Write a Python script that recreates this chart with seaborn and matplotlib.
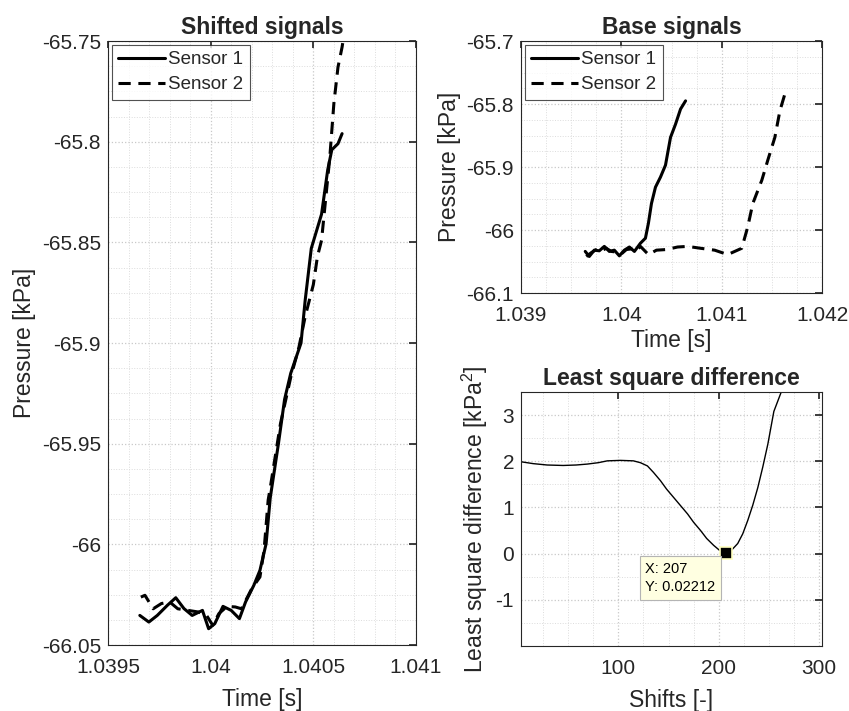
import numpy as np
import pandas as pd
import seaborn as sns
import matplotlib.pyplot as plt
from matplotlib.ticker import MultipleLocator, FuncFormatter

# ---- data ----
# shifted signals (left panel)
shift_t1 = [1.039655, 1.039699, 1.03974, 1.039789, 1.03983, 1.03987, 1.03991, 1.03996,
            1.03999, 1.04002, 1.04006, 1.04010, 1.04014, 1.04017, 1.04021, 1.04024,
            1.04027, 1.04029, 1.04033, 1.04036, 1.04039, 1.04044, 1.04046, 1.04049,
            1.04054, 1.04057, 1.04059, 1.04062, 1.04064]
shift_p1 = [-66.0353, -66.0386, -66.0353, -66.0303, -66.0265, -66.0319, -66.0353, -66.0328,
            -66.0419, -66.0394, -66.0308, -66.0328, -66.0369, -66.0286, -66.0204, -66.0129,
            -65.9997, -65.977, -65.950, -65.928, -65.915, -65.900, -65.879, -65.853,
            -65.836, -65.814, -65.804, -65.801, -65.796]
shift_t2 = [1.03966, 1.03968, 1.03972, 1.03976, 1.03980, 1.03984, 1.03989, 1.03994,
            1.03998, 1.04001, 1.04004, 1.04008, 1.04012, 1.04015, 1.04020, 1.04024,
            1.04026, 1.04028, 1.04029, 1.04034, 1.04039, 1.04043, 1.04046, 1.04050,
            1.04052, 1.04054, 1.04058, 1.04060, 1.04062, 1.04064, 1.04066]
shift_p2 = [-66.0262, -66.0253, -66.032, -66.0294, -66.0286, -66.032, -66.0328, -66.0336,
            -66.0353, -66.0402, -66.0344, -66.0308, -66.0311, -66.032, -66.022, -66.0162,
            -66.003, -65.978, -65.972, -65.940, -65.917, -65.902, -65.887, -65.871,
            -65.857, -65.849, -65.808, -65.781, -65.763, -65.753, -65.740]

# base signals (top right panel)
base_t1 = [1.03964, 1.03968, 1.03973, 1.03978, 1.03983, 1.03988, 1.03993, 1.03998,
           1.04003, 1.04008, 1.04013, 1.04019, 1.04024, 1.04027, 1.04030, 1.04034,
           1.04039, 1.04044, 1.04049, 1.04054, 1.04059, 1.04064]
base_p1 = [-66.034, -66.042, -66.032, -66.033, -66.026, -66.034, -66.032, -66.041,
           -66.032, -66.027, -66.034, -66.021, -66.013, -65.989, -65.958, -65.932,
           -65.916, -65.897, -65.853, -65.832, -65.808, -65.795]
base_t2 = [1.03965, 1.03970, 1.03975, 1.03980, 1.03985, 1.03990, 1.03995, 1.04000,
           1.04005, 1.04010, 1.04015, 1.04019, 1.04027, 1.04035, 1.04045, 1.04056,
           1.04066, 1.04079, 1.04093, 1.04106, 1.04120, 1.04126, 1.04131, 1.04140,
           1.04146, 1.04153, 1.04158, 1.04163]
base_p2 = [-66.042, -66.036, -66.031, -66.033, -66.029, -66.034, -66.035, -66.038,
           -66.031, -66.030, -66.033, -66.026, -66.039, -66.032, -66.031, -66.027,
           -66.026, -66.029, -66.032, -66.039, -66.029, -65.995, -65.958, -65.921,
           -65.889, -65.853, -65.811, -65.784]

# least square difference (bottom right panel)
lsd_shift = [3, 15, 29, 45, 58, 69, 80, 89, 102, 115, 122, 129, 135, 142, 148, 155,
             162, 169, 175, 182, 188, 195, 201, 207, 213, 219, 224, 229, 234, 239,
             244, 249, 255, 262, 268]
lsd_value = [1.99, 1.95, 1.92, 1.91, 1.92, 1.94, 1.97, 2.01, 2.02, 2.01, 1.97, 1.90,
             1.76, 1.58, 1.40, 1.22, 1.04, 0.86, 0.68, 0.50, 0.33, 0.18, 0.07, 0.02212,
             0.08, 0.22, 0.43, 0.72, 1.05, 1.43, 1.88, 2.37, 3.08, 3.48, 4.3]
tip_x, tip_y = 207, 0.02212

# ---- style ----
sns.set_theme(style="white")
plt.rcParams['font.family'] = ['Liberation Sans', 'DejaVu Sans']
plt.rcParams['axes.unicode_minus'] = False
plt.rcParams['mathtext.fontset'] = 'custom'
plt.rcParams['mathtext.rm'] = 'Liberation Sans'
plt.rcParams['mathtext.it'] = 'Liberation Sans:italic'

edge = '#262626'
tick_size = 15
label_size = 16.5
title_size = 16.5
fmt = FuncFormatter(lambda v, p: f'{v:.6g}')


def style_axes(ax, xmaj, xmin, ymaj, ymin):
    ax.xaxis.set_major_locator(MultipleLocator(xmaj))
    ax.xaxis.set_minor_locator(MultipleLocator(xmin))
    ax.yaxis.set_major_locator(MultipleLocator(ymaj))
    ax.yaxis.set_minor_locator(MultipleLocator(ymin))
    ax.xaxis.set_major_formatter(fmt)
    ax.yaxis.set_major_formatter(fmt)
    ax.grid(True, which='major', color='#c8c8c8', linestyle=':', linewidth=0.9)
    ax.grid(True, which='minor', color='#dcdcdc', linestyle=':', linewidth=0.7)
    ax.set_axisbelow(True)
    ax.tick_params(which='both', direction='in', top=True, right=True,
                   colors=edge, labelcolor=edge, labelsize=tick_size)
    ax.tick_params(which='major', length=5)
    ax.tick_params(axis='x', which='major', pad=9)
    ax.tick_params(axis='y', which='major', pad=5)
    ax.tick_params(which='minor', length=0)
    for s in ax.spines.values():
        s.set_color(edge)
        s.set_linewidth(0.8)


def draw_signals(ax, t1, p1, t2, p2):
    sns.lineplot(x=t1, y=p1, ax=ax, color='black', linewidth=2.2, sort=False,
                 estimator=None, label='Sensor 1')
    sns.lineplot(x=t2, y=p2, ax=ax, color='black', linewidth=2.2, sort=False,
                 estimator=None, label='Sensor 2', linestyle='--')
    ax.lines[-1].set_dashes([4, 2.5])
    leg = ax.legend(loc='upper left', fontsize=13.5, frameon=True, fancybox=False,
                    handlelength=2.5, handletextpad=0.15, borderpad=0.35,
                    labelspacing=0.4, borderaxespad=0.2)
    leg.get_frame().set_edgecolor(edge)
    leg.get_frame().set_linewidth(0.8)


fig = plt.figure(figsize=(8.49, 7.11), dpi=100)
ax1 = fig.add_axes([0.1272, 0.0928, 0.3628, 0.8495])
ax2 = fig.add_axes([0.6137, 0.5879, 0.3545, 0.3544])
ax3 = fig.add_axes([0.6137, 0.0914, 0.3545, 0.3572])

# left: shifted signals
draw_signals(ax1, shift_t1, shift_p1, shift_t2, shift_p2)
style_axes(ax1, 0.0005, 0.0001, 0.05, 0.0125)
ax1.set_xlim(1.0395, 1.041)
ax1.set_ylim(-66.05, -65.75)
ax1.set_title('Shifted signals', fontsize=title_size, fontweight='bold', pad=5)
ax1.set_xlabel('Time [s]', fontsize=label_size, color=edge, labelpad=8)
ax1.set_ylabel('Pressure [kPa]', fontsize=label_size, color=edge, labelpad=4)

# top right: base signals
draw_signals(ax2, base_t1, base_p1, base_t2, base_p2)
style_axes(ax2, 0.001, 0.00025, 0.1, 0.025)
ax2.set_xlim(1.039, 1.042)
ax2.set_ylim(-66.1, -65.7)
ax2.set_title('Base signals', fontsize=title_size, fontweight='bold', pad=5)
ax2.set_xlabel('Time [s]', fontsize=label_size, color=edge, labelpad=3)
ax2.set_ylabel('Pressure [kPa]', fontsize=label_size, color=edge, labelpad=4)

# bottom right: least square difference
lsd = pd.DataFrame({'shift': lsd_shift, 'value': lsd_value})
sns.lineplot(data=lsd, x='shift', y='value', ax=ax3, color='black', linewidth=1.0,
             sort=False, estimator=None)
style_axes(ax3, 100, 25, 1, 0.5)
ax3.set_xlim(3, 303)
ax3.set_ylim(-2, 3.5)
ax3.set_yticks([-1, 0, 1, 2, 3])
ax3.set_title('Least square difference', fontsize=title_size, fontweight='bold', pad=5)
ax3.set_xlabel('Shifts [-]', fontsize=label_size, color=edge, labelpad=8)
ax3.set_ylabel('Least square difference [kPa$^2$]', fontsize=label_size, color=edge,
               labelpad=4)
ax3.plot([tip_x], [tip_y], marker='s', markersize=8, color='black',
         markeredgecolor='#ffffc0', markeredgewidth=1.2, linestyle='none', zorder=5)
ax3.text(tip_x - 80, tip_y - 0.2, f'X: {tip_x}\nY: {tip_y:.4g}', fontsize=10.5,
         ha='left', va='top', color='black', linespacing=1.35, zorder=6,
         bbox=dict(boxstyle='square,pad=0.4', facecolor='#ffffe1', edgecolor='#b4b4b4',
                   linewidth=0.8))

fig.savefig('out.png', dpi=100)
